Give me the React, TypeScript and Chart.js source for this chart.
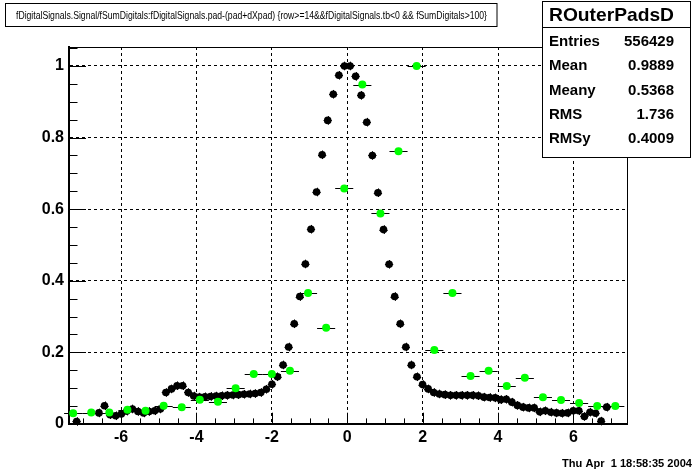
import { useEffect, useRef } from "react";
import { Chart, registerables } from "chart.js";

Chart.register(...registerables);

// ---- data ----
const BIN_START = -7.326; // centre of first fine bin
const BIN_WIDTH = 0.148;
const blackY: (number | null)[] = [
  null, 0.007, null, null, null, 0.031, 0.051, 0.026, 0.023, 0.028,
  0.036, 0.042, 0.035, 0.031, 0.035, 0.037, 0.042, 0.088, 0.098, 0.107,
  0.107, 0.088, 0.078, 0.075, 0.076, 0.077, 0.078, 0.079, 0.080, 0.081,
  0.082, 0.083, 0.084, 0.085, 0.088, 0.097, 0.111, 0.132, 0.165, 0.215,
  0.280, 0.356, 0.447, 0.544, 0.648, 0.752, 0.848, 0.921, 0.974, 1.000,
  1.000, 0.971, 0.918, 0.843, 0.750, 0.646, 0.543, 0.446, 0.356, 0.280,
  0.215, 0.165, 0.132, 0.110, 0.098, 0.088, 0.084, 0.082, 0.080, 0.080,
  0.080, 0.080, 0.080, 0.079, 0.075, 0.074, 0.073, 0.068, 0.069, 0.061,
  0.052, 0.047, 0.045, 0.045, 0.034, 0.037, 0.033, 0.031, 0.030, 0.031,
  0.037, 0.037, 0.021, 0.033, 0.030, 0.008, 0.047, null, null, null,
];
const greenX = [
  -7.27, -6.79, -6.31, -5.83, -5.35, -4.87, -4.39, -3.91, -3.43, -2.96,
  -2.48, -2.0, -1.52, -1.04, -0.56, -0.08, 0.4, 0.88, 1.36, 1.84,
  2.31, 2.79, 3.27, 3.75, 4.23, 4.71, 5.19, 5.67, 6.15, 6.63, 7.11,
];
const greenY = [
  0.030, 0.032, 0.032, 0.040, 0.037, 0.051, 0.047, 0.068, 0.062, 0.100,
  0.140, 0.140, 0.149, 0.366, 0.269, 0.658, 0.948, 0.588, 0.762, 1.000,
  0.207, 0.366, 0.134, 0.149, 0.106, 0.129, 0.075, 0.067, 0.059, 0.050, 0.050,
];
const GREEN_XERR = 0.24;
const BLACK_XERR = 0.11;
const BLACK_YERR = 0.012;

const xTicks = [-6, -4, -2, 0, 2, 4, 6];
const yTicks = [0, 0.2, 0.4, 0.6, 0.8, 1];
const yTickLabels = ["0", "0.2", "0.4", "0.6", "0.8", "1"];

const titleText =
  "fDigitalSignals.Signal/fSumDigitals:fDigitalSignals.pad-(pad+dXpad) {row>=14&&fDigitalSignals.tb<0 && fSumDigitals>100}";
const statsTitle = "ROuterPadsD";
const statsNames = ["Entries", "Mean", "Meany", "RMS", "RMSy"];
const statsValues = ["556429", "0.9889", "0.5368", "1.736", "0.4009"];
const dateText = "Thu Apr  1 18:58:35 2004";

const FONT = "'Liberation Sans', Arial, Helvetica, sans-serif";

function fitText(
  ctx: CanvasRenderingContext2D,
  text: string,
  x: number,
  y: number,
  width: number,
  font: string,
  align: "left" | "right" = "left"
) {
  ctx.save();
  ctx.font = font;
  const w = ctx.measureText(text).width;
  const s = width / w;
  ctx.translate(align === "left" ? x : x - width, y);
  ctx.scale(s, 1);
  ctx.textAlign = "left";
  ctx.textBaseline = "alphabetic";
  ctx.fillText(text, 0, 0);
  ctx.restore();
}

const rootPlugin = {
  id: "rootDecor",
  beforeDatasetsDraw(chart: any) {
    const { ctx, scales } = chart;
    const xs = scales.x;
    const ys = scales.y;
    ctx.save();
    ctx.strokeStyle = "#000";
    ctx.lineWidth = 1;
    ctx.beginPath();
    blackY.forEach((v, i) => {
      if (v == null) return;
      const x = BIN_START + i * BIN_WIDTH;
      const px = xs.getPixelForValue(x);
      const py = ys.getPixelForValue(v);
      ctx.moveTo(xs.getPixelForValue(x - BLACK_XERR), Math.round(py) + 0.5);
      ctx.lineTo(xs.getPixelForValue(x + BLACK_XERR), Math.round(py) + 0.5);
      ctx.moveTo(Math.round(px) + 0.5, ys.getPixelForValue(v - BLACK_YERR));
      ctx.lineTo(Math.round(px) + 0.5, ys.getPixelForValue(v + BLACK_YERR));
    });
    greenY.forEach((v, i) => {
      const x = greenX[i];
      const py = Math.round(ys.getPixelForValue(v)) + 0.5;
      ctx.moveTo(xs.getPixelForValue(x - GREEN_XERR), py);
      ctx.lineTo(xs.getPixelForValue(x + GREEN_XERR), py);
    });
    ctx.stroke();
    ctx.restore();
  },
  afterDraw(chart: any) {
    const { ctx, scales, chartArea } = chart;
    const xs = scales.x;
    const ys = scales.y;
    const { left, right, top, bottom } = chartArea;
    ctx.save();
    ctx.strokeStyle = "#000";
    ctx.lineWidth = 1;
    // frame top & right
    ctx.beginPath();
    ctx.moveTo(left, top + 0.5);
    ctx.lineTo(right + 0.5, top + 0.5);
    ctx.lineTo(right + 0.5, bottom);
    ctx.stroke();
    // y ticks (inward)
    ctx.beginPath();
    for (let k = 0; k <= 21; k++) {
      const v = k * 0.05;
      const py = Math.round(ys.getPixelForValue(v)) + 0.5;
      const len = k % 4 === 0 ? 17 : 8.5;
      ctx.moveTo(left, py);
      ctx.lineTo(left + len, py);
    }
    // x ticks (inward)
    for (let k = -14; k <= 14; k++) {
      const v = k * 0.5;
      const px = Math.round(xs.getPixelForValue(v)) + 0.5;
      const len = k % 4 === 0 ? 11.3 : 5.6;
      ctx.moveTo(px, bottom);
      ctx.lineTo(px, bottom - len);
    }
    ctx.stroke();

    // title box
    ctx.fillStyle = "#fff";
    ctx.fillRect(5.5, 3.5, 491.5, 23);
    ctx.strokeRect(5.5, 3.5, 491.5, 23);
    ctx.fillStyle = "#000";
    fitText(ctx, titleText, 16, 19.3, 471, `10.5px ${FONT}`);

    // stats box
    const bx = 542.5, by = 1.5, bw = 148, bh = 156;
    ctx.fillStyle = "#fff";
    ctx.fillRect(bx, by, bw, bh);
    ctx.strokeRect(bx, by, bw, bh);
    ctx.beginPath();
    ctx.moveTo(bx, 27.5);
    ctx.lineTo(bx + bw, 27.5);
    ctx.stroke();
    ctx.fillStyle = "#000";
    fitText(ctx, statsTitle, 549, 20.7, 125, `bold 19px ${FONT}`);
    statsNames.forEach((n, i) => {
      const base = 45.7 + i * 24.4;
      ctx.font = `bold 15px ${FONT}`;
      ctx.textAlign = "left";
      ctx.textBaseline = "alphabetic";
      ctx.fillText(n, 549, base);
      ctx.textAlign = "right";
      ctx.fillText(statsValues[i], 674, base);
    });

    // date
    fitText(ctx, dateText, 692, 467, 130, `bold 10px ${FONT}`, "right");
    ctx.restore();
  },
};

export default function App() {
  const ref = useRef<HTMLCanvasElement | null>(null);
  useEffect(() => {
    if (!ref.current) return;
    const blackData = blackY
      .map((y, i) => (y == null ? null : { x: BIN_START + i * BIN_WIDTH, y }))
      .filter((p) => p !== null) as { x: number; y: number }[];
    const greenData = greenY.map((y, i) => ({ x: greenX[i], y }));
    const tickFont = { family: FONT, weight: "bold" as const, size: 16 };
    const chart = new Chart(ref.current, {
      type: "scatter",
      data: {
        datasets: [
          {
            data: greenData,
            pointRadius: 4,
            pointBackgroundColor: "#00ff00",
            pointBorderWidth: 0,
            borderColor: "#00ff00",
            order: 0,
          },
          {
            data: blackData,
            pointRadius: 3.8,
            pointBackgroundColor: "#000",
            pointBorderWidth: 0,
            borderColor: "#000",
            order: 1,
          },
        ],
      },
      options: {
        animation: false,
        responsive: false,
        events: [],
        layout: { padding: { left: 0, top: 47, right: 69, bottom: 0 } },
        plugins: {
          legend: { display: false },
          tooltip: { enabled: false },
          title: { display: false },
        },
        scales: {
          x: {
            type: "linear",
            min: -7.38,
            max: 7.42,
            afterBuildTicks: (s: any) => {
              s.ticks = xTicks.map((v) => ({ value: v }));
            },
            afterFit: (s: any) => {
              s.height = 48;
            },
            grid: { color: "#000", lineWidth: 1, drawTicks: false },
            border: { display: true, color: "#000", width: 2, dash: [3, 3] },
            ticks: {
              color: "#000",
              font: tickFont,
              padding: 4,
              maxRotation: 0,
              autoSkip: false,
              callback: (v: any) => String(v),
            },
          },
          y: {
            type: "linear",
            min: 0,
            max: 1.053,
            afterBuildTicks: (s: any) => {
              s.ticks = yTicks.map((v) => ({ value: v }));
            },
            afterFit: (s: any) => {
              s.width = 69;
            },
            grid: { color: "#000", lineWidth: 1, drawTicks: false },
            border: { display: true, color: "#000", width: 2, dash: [3, 3] },
            ticks: {
              color: "#000",
              font: tickFont,
              padding: 5,
              autoSkip: false,
              callback: (v: any) => {
                const i = yTicks.findIndex((t) => Math.abs(t - v) < 1e-6);
                return i >= 0 ? yTickLabels[i] : "";
              },
            },
          },
        },
      },
      plugins: [rootPlugin],
    });
    return () => chart.destroy();
  }, []);
  return (
    <div style={{ position: "absolute", left: 0, top: 0, width: 696, height: 472, background: "#fff" }}>
      <canvas ref={ref} width={696} height={472} style={{ display: "block", width: 696, height: 472 }} />
    </div>
  );
}
